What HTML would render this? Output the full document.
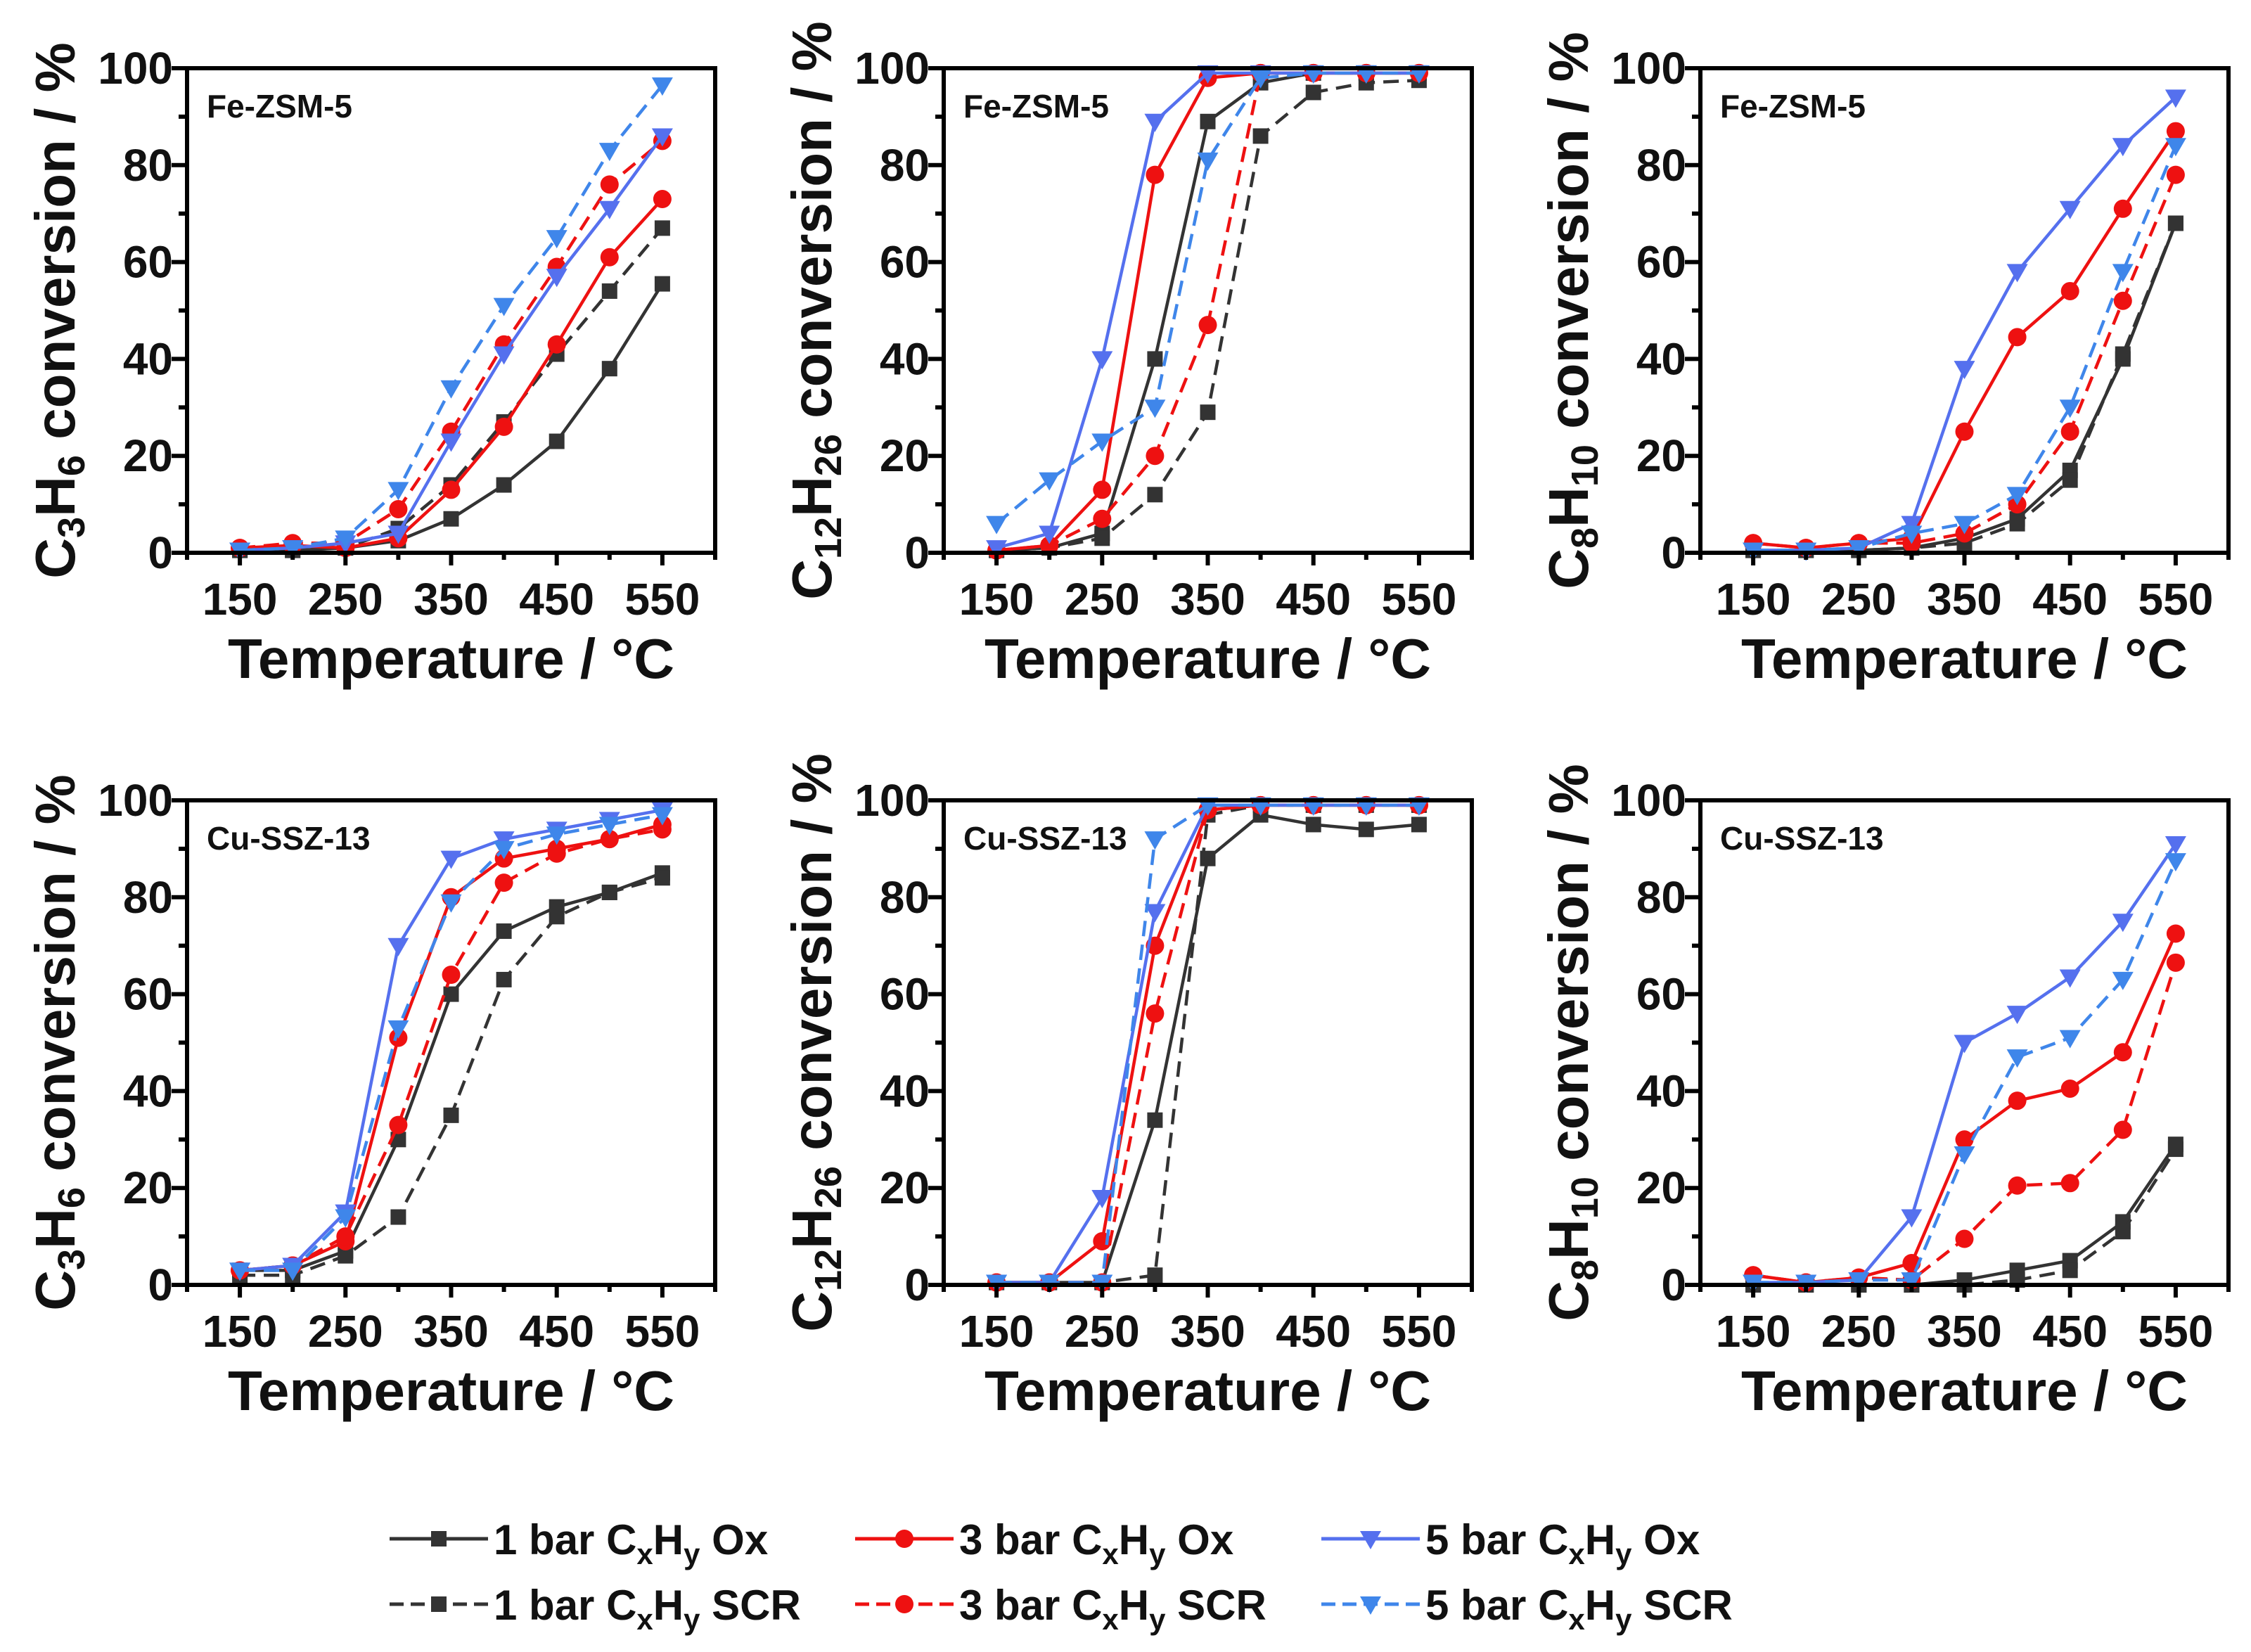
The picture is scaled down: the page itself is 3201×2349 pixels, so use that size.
<!DOCTYPE html>
<html><head><meta charset="utf-8"><style>
html,body{margin:0;padding:0;background:#fff}
svg{display:block}
text{font-family:"Liberation Sans",Arial,sans-serif;font-weight:bold;fill:#111}
</style></head><body>
<svg id="fig" width="3201" height="2349" viewBox="0 0 3201 2349" xmlns="http://www.w3.org/2000/svg"></svg>
<script>
const temps = [150,200,250,300,350,400,450,500,550];
const xTicks = [150,250,350,450,550];
const yTicks = [0,20,40,60,80,100];
const seriesNames = ["1 bar Ox","1 bar SCR","3 bar Ox","3 bar SCR","5 bar Ox","5 bar SCR"];
// panel 1: C3H6 Fe-ZSM-5
const p1_1ox = [0.5,0.5,1,2.5,7,14,23,38,55.5];
const p1_1scr = [0.5,0.5,1,5,14,27,41,54,67];
const p1_3ox = [1,1.5,1,3,13,26,43,61,73];
const p1_3scr = [1,2,2,9,25,43,59,76,85];
const p1_5ox = [0.5,1,2,4,23,41,57,71,86];
const p1_5scr = [0.5,1,3,13,34,51,65,83,96.5];
// panel 2: C12H26 Fe-ZSM-5
const p2_1ox = [0.5,1,4,40,89,97,99,99,99];
const p2_1scr = [0.5,1,3,12,29,86,95,97,97.5];
const p2_3ox = [0.5,1.5,13,78,98,99,99,99,99];
const p2_3scr = [0.5,1.5,7,20,47,99,99,99,99];
const p2_5ox = [1,4,40,89,99,99,99,99,99];
const p2_5scr = [6,15,23,30,81,98,99,99,99];
// panel 3: C8H10 Fe-ZSM-5
const p3_1ox = [0.5,0.5,0.5,1,3,7,17,40,68];
const p3_1scr = [0.5,0.5,0.5,1,2,6,15,41,68];
const p3_3ox = [2,1,2,3,25,44.5,54,71,87];
const p3_3scr = [2,1,2,2,4,10,25,52,78];
const p3_5ox = [0.5,0.5,1,6,38,58,71,84,94];
const p3_5scr = [0.5,0.5,1,4,6,12,30,58,84];
// panel 4: C3H6 Cu-SSZ-13
const p4_1ox = [3,3,7,30,60,73,78,81,85];
const p4_1scr = [2,2,6,14,35,63,76,81,84];
const p4_3ox = [3,4,9,51,80,88,90,92,95];
const p4_3scr = [3,4,10,33,64,83,89,92,94];
const p4_5ox = [3,4,15,70,88,92,94,96,98];
const p4_5scr = [3,3,14,53,79,90,93,95,97];
// panel 5: C12H26 Cu-SSZ-13
const p5_1ox = [0.5,0.5,0.5,34,88,97,95,94,95];
const p5_1scr = [0.5,0.5,0.5,2,97,99,99,99,99];
const p5_3ox = [0.5,0.5,9,70,98,99,99,99,99];
const p5_3scr = [0.5,0.5,0.5,56,98,99,99,99,99];
const p5_5ox = [0.5,0.5,18,77,99,99,99,99,99];
const p5_5scr = [0.5,0.5,0.5,92,99,99,99,99,99];
// panel 6: C8H10 Cu-SSZ-13
const p6_1ox = [0,0,0,0,1,3,5,13,29];
const p6_1scr = [0,0,0,0,0,1,3,11,28];
const p6_3ox = [2,0.5,1.5,4.5,30,38,40.5,48,72.5];
const p6_3scr = [2,0.5,1.5,1,9.5,20.5,21,32,66.5];
const p6_5ox = [0.5,0.5,1,14,50,56,63.5,75,91];
const p6_5scr = [0.5,0.5,1,1,27,47,51,63,87.5];

const NS="http://www.w3.org/2000/svg";
const svg=document.getElementById('fig');
function mk(tag,attrs,parent){const e=document.createElementNS(NS,tag);for(const k in attrs)e.setAttribute(k,attrs[k]);(parent||svg).appendChild(e);return e;}

const styles=[
 {c:"#333333",dash:null,m:"sq"},
 {c:"#333333",dash:"22 12",m:"sq"},
 {c:"#ee1111",dash:null,m:"ci"},
 {c:"#ee1111",dash:"22 12",m:"ci"},
 {c:"#5570ee",dash:null,m:"tri"},
 {c:"#3f86ea",dash:"22 12",m:"tri"}
];
function marker(g,m,x,y,c){
  let e;
  if(m==="sq") e=mk('rect',{x:x-11,y:y-11,width:22,height:22,fill:c},g);
  else if(m==="ci") e=mk('circle',{cx:x,cy:y,r:13,fill:c},g);
  else e=mk('polygon',{points:`${x-15},${y-11} ${x+15},${y-11} ${x},${y+15}`,fill:c},g);
  
  
}

const panels=[
 {L:266,T:97,sub:["C","3","H","6"],cat:"Fe-ZSM-5",d:[p1_1ox,p1_1scr,p1_3ox,p1_3scr,p1_5ox,p1_5scr]},
 {L:1342,T:97,sub:["C","12","H","26"],cat:"Fe-ZSM-5",d:[p2_1ox,p2_1scr,p2_3ox,p2_3scr,p2_5ox,p2_5scr]},
 {L:2418,T:97,sub:["C","8","H","10"],cat:"Fe-ZSM-5",d:[p3_1ox,p3_1scr,p3_3ox,p3_3scr,p3_5ox,p3_5scr]},
 {L:266,T:1138,sub:["C","3","H","6"],cat:"Cu-SSZ-13",d:[p4_1ox,p4_1scr,p4_3ox,p4_3scr,p4_5ox,p4_5scr]},
 {L:1342,T:1138,sub:["C","12","H","26"],cat:"Cu-SSZ-13",d:[p5_1ox,p5_1scr,p5_3ox,p5_3scr,p5_5ox,p5_5scr]},
 {L:2418,T:1138,sub:["C","8","H","10"],cat:"Cu-SSZ-13",d:[p6_1ox,p6_1scr,p6_3ox,p6_3scr,p6_5ox,p6_5scr]}
];
const W=751,H=689;
panels.forEach((p,pi)=>{
  const g=mk('g',{});
  
  
  const xs=v=>p.L+(v-100)/500*W;
  const ys=v=>p.T+H-(v/100)*H;
  p.d.forEach((arr,si)=>{
    const st=styles[si];
    const sg=mk('g',{},g);
    
    
    const pts=arr.map((v,i)=>xs(temps[i])+','+ys(v)).join(' ');
    const pl=mk('polyline',{points:pts,fill:'none',stroke:st.c,'stroke-width':4.5,'stroke-linejoin':'round'},sg);
    if(st.dash) pl.setAttribute('stroke-dasharray',st.dash);
    
    
    arr.forEach((v,i)=>marker(sg,st.m,xs(temps[i]),ys(v),st.c));
  });
  const fr=mk('rect',{x:p.L,y:p.T,width:W,height:H,fill:'none',stroke:'#000','stroke-width':6},g);
  
  
  for(let v=0;v<=100;v+=10){
    const major=v%20===0;
    mk('line',{x1:p.L,x2:p.L-(major?22:12),y1:ys(v),y2:ys(v),stroke:'#000','stroke-width':6},g);
  }
  yTicks.forEach(v=>{
    const t=mk('text',{x:p.L-20,y:ys(v)+22,'text-anchor':'end','font-size':64},g);
    t.textContent=v;
    
    
  });
  for(let v=100;v<=600;v+=50){
    const major=(v-150)%100===0;
    mk('line',{x1:xs(v),x2:xs(v),y1:p.T+H,y2:p.T+H+(major?18:10),stroke:'#000','stroke-width':6},g);
  }
  xTicks.forEach(v=>{
    const t=mk('text',{x:xs(v),y:p.T+H+88,'text-anchor':'middle','font-size':64},g);
    t.textContent=v;
    
    
  });
  const xt=mk('text',{x:p.L+W/2,y:p.T+H+178,'text-anchor':'middle','font-size':80},g);
  xt.textContent="Temperature / °C";
  
  
  const cx=p.L-160, cy=p.T+H/2;
  const yt=mk('text',{x:cx,y:cy,'text-anchor':'middle','font-size':80,transform:`rotate(-90 ${cx} ${cy})`},g);
  
  
  const parts=[[p.sub[0],0],[p.sub[1],1],[p.sub[2],0],[p.sub[3],1],[" conversion / %",0]];
  parts.forEach(([s,isSub])=>{
    const ts=mk('tspan',{},yt);
    if(isSub){ts.setAttribute('font-size',54);ts.setAttribute('dy',14);}
    else if(yt.childNodes.length>1){ts.setAttribute('dy',-14);}
    ts.textContent=s;
  });
  const cl=mk('text',{x:p.L+28,y:p.T+70,'font-size':46},g);
  cl.textContent=p.cat;
  
  
});

const lg=mk('g',{});


const legX=[554,1216,1879], legY=[2188,2281];
const legLabels=[["1 bar ","Ox"],["1 bar ","SCR"],["3 bar ","Ox"],["3 bar ","SCR"],["5 bar ","Ox"],["5 bar ","SCR"]];
styles.forEach((st,si)=>{
  const col=Math.floor(si/2), row=si%2;
  const x=legX[col], y=legY[row];
  const eg=mk('g',{},lg);
  
  
  const ln=mk('line',{x1:x,x2:x+140,y1:y,y2:y,stroke:st.c,'stroke-width':5},eg);
  if(st.dash) ln.setAttribute('stroke-dasharray','20 10');
  marker(eg,st.m,x+70,y,st.c);
  const t=mk('text',{x:x+148,y:y+22,'font-size':60},eg);
  const a=mk('tspan',{},t); a.textContent=legLabels[si][0]+"C";
  const b=mk('tspan',{'font-size':42,dy:14},t); b.textContent="x";
  const c=mk('tspan',{dy:-14},t); c.textContent="H";
  const d=mk('tspan',{'font-size':42,dy:14},t); d.textContent="y";
  const e=mk('tspan',{dy:-14},t); e.textContent=" "+legLabels[si][1];
});
</script>
</body></html>
